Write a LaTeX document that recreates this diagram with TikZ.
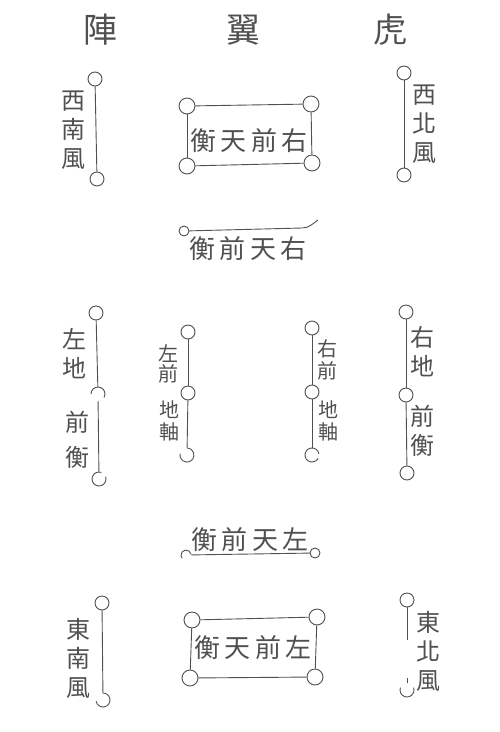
\documentclass[tikz,border=0pt]{standalone}
\usepackage{fontspec}
\newfontfamily\cjk{Noto Sans CJK TC}
\definecolor{ink}{HTML}{505050}

\begin{document}
\begin{tikzpicture}[x=1pt,y=-1pt,line width=0.9pt]
                \tikzstyle{ring}=[circle,draw=ink,fill=white,minimum size=14pt,inner sep=0pt]
                \tikzstyle{bigring}=[ring,minimum size=16pt]
                \tikzstyle{dot}=[ring,minimum size=10pt]
                \tikzstyle{gap}=[ring,draw=none,fill=none]
                \tikzstyle{word}=[text=ink,font=\cjk\fontsize{24}{29}\selectfont,align=center,inner sep=0pt]
                \tikzstyle{smallword}=[word,font=\cjk\fontsize{20}{22}\selectfont]
                \tikzstyle{rowword}=[word,font=\cjk\fontsize{26}{26}\selectfont]
                \tikzstyle{title}=[word,font=\cjk\fontsize{34}{34}\selectfont]
                \fill[white] (0,0) rectangle (500,732);
                \useasboundingbox (0,0) rectangle (500,732);

                % title
                        \node[title] (T-1) at (100,30) {陣};
                        \node[title] (T-2) at (243,30) {翼};
                        \node[title] (T-3) at (390,30) {虎};

                % winds and flanks
                        \node[ring] (R-1) at (95,79){};
                        \node[ring] (R-2) at (97,179){};
                        \node[ring] (R-3) at (404,73){};
                        \node[ring] (R-4) at (404,175){};
                        \node[ring] (R-5) at (96,313){};
                        \node[gap] (R-6) at (98,394){};
                        \node[gap] (R-7) at (99,479){};
                        \node[ring] (R-8) at (188,332){};
                        \node[ring] (R-9) at (188,393){};
                        \node[gap] (R-10) at (187,455){};
                        \node[ring] (R-11) at (312,328){};
                        \node[ring] (R-12) at (312,392){};
                        \node[gap] (R-13) at (312,455){};
                        \node[ring] (R-14) at (406,312){};
                        \node[ring] (R-15) at (406,395){};
                        \node[ring] (R-16) at (407,473){};
                        \node[ring] (R-17) at (102,603){};
                        \node[gap] (R-18) at (103,700){};
                        \node[ring] (R-19) at (407,600){};
                        \node[gap] (R-20) at (407,690){};

                        \node[word] (L-1) at (73,130) {西\\南\\風};
                        \node[word] (L-3) at (424,124) {西\\北\\風};
                        \node[word] (L-5) at (75,354) {左\\地};
                        \node[word] (L-6) at (77,440) {前\\[6pt]衡};
                        \node[smallword] (L-8) at (168,364) {左\\[-2pt]前};
                        \node[smallword] (L-9) at (169,421) {地\\軸};
                        \node[smallword] (L-11) at (327,360) {右\\前};
                        \node[smallword] (L-12) at (328,421) {地\\軸};
                        \node[word] (L-14) at (422,352) {右\\地};
                        \node[word] (L-15) at (422,431) {前\\衡};
                        \node[word] (L-17) at (78,658) {東\\南\\風};
                        \node[word] (L-19) at (428,651) {東\\北\\風};

                % front boxes
                        \node[bigring] (B-1) at (187,106){};
                        \node[bigring] (B-2) at (311,104){};
                        \node[bigring] (B-3) at (187,166){};
                        \node[bigring] (B-4) at (312,163){};
                        \node[bigring] (B-5) at (192,620){};
                        \node[bigring] (B-6) at (317,617){};
                        \node[bigring] (B-7) at (190,678){};
                        \node[bigring] (B-8) at (315,677){};
                        \node[rowword] (X-1) at (249,141) {衡\,天\,前\,右};
                        \node[rowword] (X-5) at (253,648) {衡\,天\,前\,左};

                % front rows
                        \node[dot] (H-1) at (184,231){};
                        \coordinate (H-1e) at (318,220);
                        \node[gap,minimum size=10pt] (H-2) at (186,555){};
                        \node[dot] (H-3) at (315,553){};
                        \node[rowword] (X-2) at (248,249) {衡\,前\,天\,右};
                        \node[rowword] (X-4) at (250,540) {衡\,前\,天\,左};

                    \foreach \from/\to in {1/2, 3/4, 5/6, 6/7, 8/9, 9/10, 11/12, 12/13, 14/15, 15/16, 17/18}
                        \draw[ink] (R-\from) -- (R-\to);
                    \draw[ink,dash pattern=on 33pt off 38pt on 10pt] (R-19) -- (R-20);
                    \foreach \from/\to in {1/2, 3/4, 1/3, 2/4, 5/6, 7/8, 5/7, 6/8}
                        \draw[ink] (B-\from) -- (B-\to);
                    \draw[ink] (H-1) -- (302,228) to[out=0,in=215] (H-1e);
                    \draw[ink] (H-2) -- (H-3);

                % broken rings
                    \draw[ink] (R-6.center) ++(180:7pt) arc (180:-30:7pt);
                    \draw[ink] (R-7.center) ++(70:7pt) arc (70:380:7pt);
                    \draw[ink] (R-10.center) ++(170:7pt) arc (170:450:7pt);
                    \draw[ink] (R-13.center) ++(10:7pt) arc (10:330:7pt);
                    \draw[ink] (H-2.center) ++(10:5pt) arc (10:220:5pt);
                    \draw[ink] (R-18.center) ++(190:7pt) arc (190:450:7pt);
                    \draw[ink] (R-20.center) ++(160:7pt) arc (160:380:7pt);
            \end{tikzpicture}
\end{document}
